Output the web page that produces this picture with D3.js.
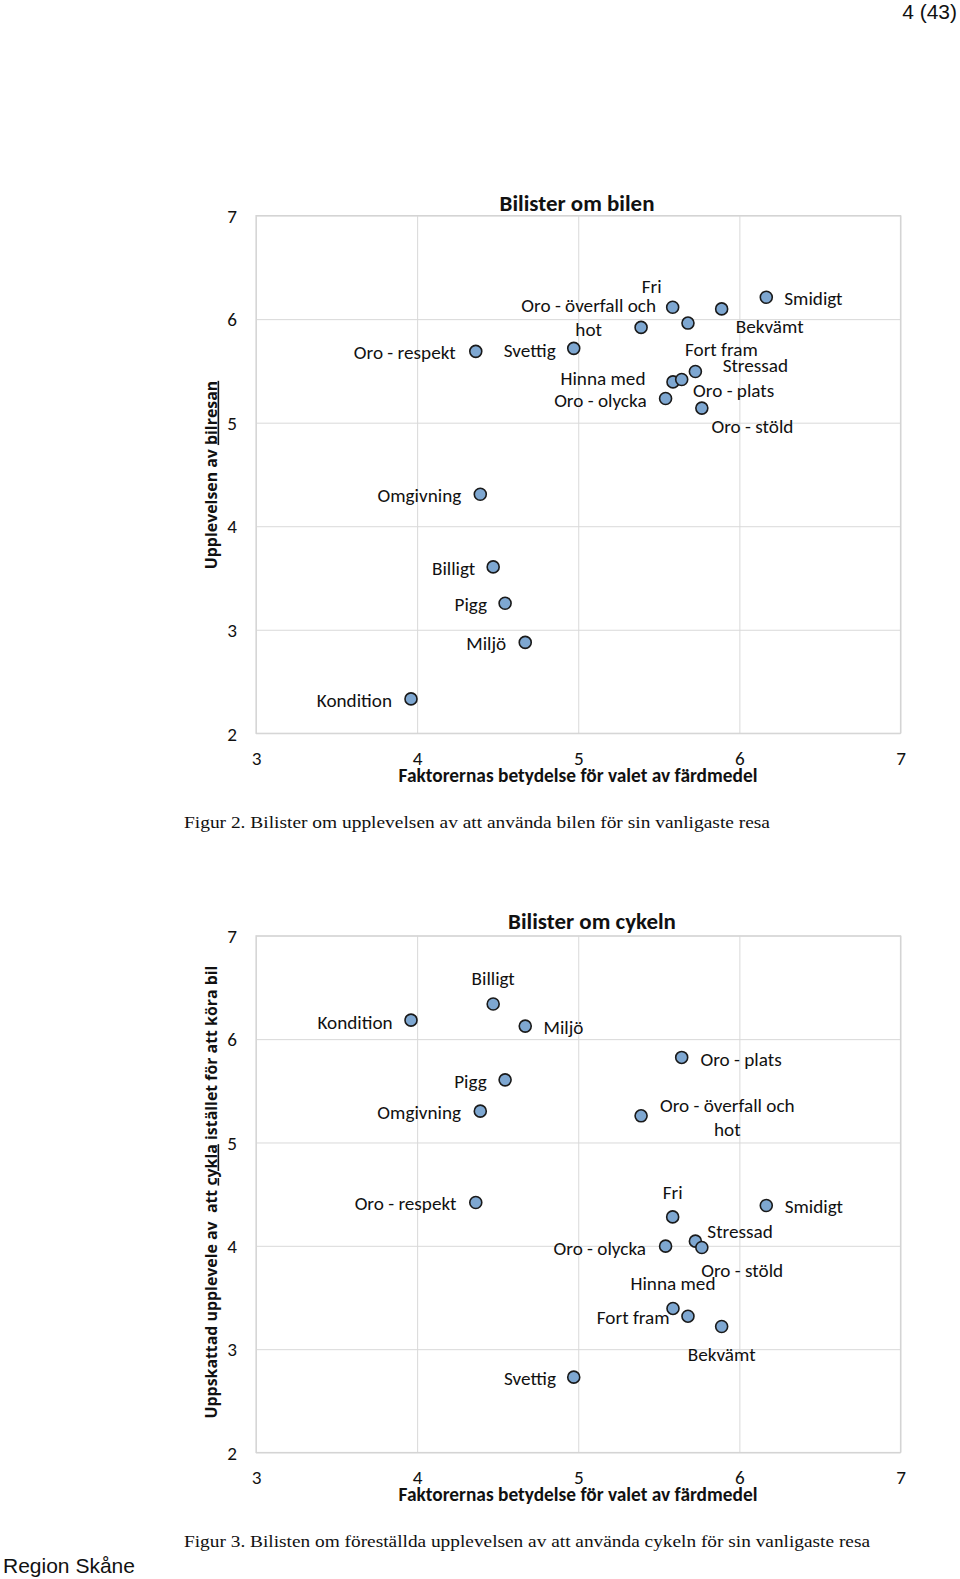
<!DOCTYPE html>
<html>
<head>
<meta charset="utf-8">
<script src="https://cdn.jsdelivr.net/npm/d3@7"></script>
<style>
  html, body { margin: 0; padding: 0; background: #fff; }
  svg { display: block; }
</style>
</head>
<body>
<div id="chart"></div>
<script>
// ---------------- DATA ----------------
const factors = ["Kondition","Billigt","Miljö","Pigg","Omgivning","Oro - respekt","Svettig",
  "Oro - överfall och hot","Oro - olycka","Fri","Hinna med","Oro - plats","Fort fram",
  "Stressad","Oro - stöld","Bekvämt","Smidigt"];
// x: Faktorernas betydelse för valet av färdmedel (same in both charts)
const importance = [3.962,4.472,4.671,4.546,4.392,4.364,4.972,5.390,5.542,5.586,5.588,5.642,5.681,5.727,5.767,5.890,6.167];
// y: Upplevelsen av bilresan
const bilenValues = [2.332,3.607,2.878,3.256,4.309,5.689,5.718,5.920,5.234,6.115,5.394,5.417,5.962,5.494,5.141,6.099,6.211];
// y: Uppskattad upplevelse av att cykla istället för att köra bil
const cykelnValues = [6.184,6.340,6.126,5.606,5.303,4.419,2.729,5.258,3.997,4.280,3.394,5.823,3.319,4.045,3.984,3.219,4.390];
const xTicks = [3,4,5,6,7];
const yTicks = [2,3,4,5,6,7];

// ---------------- LABEL LAYOUT (anchor, dx, dy from point) ----------------
const bilenLabelPos = [
  ["end",-19,1],["end",-18,1.7],["end",-19,1],["end",-18,1.3],["end",-19,1],["end",-20,1],
  ["end",-18,1.6],["middle",-52.4,-10],["end",-19,1.7],["middle",-21,-21],["end",-27.5,-4],
  ["middle",52,10.7],["middle",33.4,26],["middle",60,-6.3],["middle",50.6,18],["middle",48,17.7],
  ["start",18,1]
];
const cykelnLabelPos = [
  ["end",-18.4,2],["middle",0,-25.4],["start",18.3,1.4],["end",-18.4,1],["end",-19.2,0.7],
  ["end",-19.2,1],["end",-17.8,1],["middle",86.2,1.6],["end",-19.6,1.7],["middle",0,-24.3],
  ["middle",0,-25],["start",18.8,1.6],["end",-18.4,1.3],["middle",44.7,-10],["middle",40.4,22.7],
  ["middle",0,28],["start",18.4,1]
];
const wrapLabels = {"Oro - överfall och hot": ["Oro - överfall och", "hot"]};

// ---------------- SETUP ----------------
const W = 960, H = 1579;
const svg = d3.select("#chart").append("svg").attr("width", W).attr("height", H);

const labelFamily = "Carlito, Calibri, Lato, sans-serif";
const titleFamily = "Carlito, Calibri, Lato, sans-serif";
const yTitleFamily = "'Open Sans', 'Noto Sans', sans-serif";
const serifFamily = "'Liberation Serif', 'Times New Roman', serif";
const sansFamily = "'Liberation Sans', Arial, sans-serif";

function measure(txt, family, weight, size) {
  const t = svg.append("text").attr("font-family", family).attr("font-weight", weight)
    .attr("font-size", size).style("white-space","pre").text(txt);
  const w = t.node().getComputedTextLength();
  t.remove();
  return w;
}
const labelSize = 20 * 102 / measure("Oro - respekt", labelFamily, 400, 20);
const titleSize = 20 * 155 / measure("Bilister om bilen", titleFamily, 700, 20);
const xTitleSize = 20 * 359 / measure("Faktorernas betydelse för valet av färdmedel", titleFamily, 700, 20);
const yTitleSize = 20 * 188.5 / measure("Upplevelsen av bilresan", yTitleFamily, 700, 20);

// page number and footer
svg.append("text").attr("x", 957).attr("y", 19).attr("text-anchor","end")
  .attr("font-family", sansFamily).attr("font-size", 21).attr("fill","#111").text("4 (43)");
svg.append("text").attr("x", 3).attr("y", 1573)
  .attr("font-family", sansFamily).attr("font-size", 21).attr("fill","#111").text("Region Skåne");

function drawChart(cfg) {
  const x = d3.scaleLinear().domain([3,7]).range([256, 900.5]);
  const y = d3.scaleLinear().domain([2,7]).range([cfg.bottom, cfg.top]);
  const g = svg.append("g");
  const pw = 900.5 - 256, ph = cfg.bottom - cfg.top;

  // gridlines + tick labels via axes
  const yAxis = d3.axisLeft(y).tickValues(yTicks).tickSize(-pw).tickPadding(19).tickFormat(d3.format("d"));
  const ya = g.append("g").attr("transform", "translate(256,0)").call(yAxis);
  ya.select(".domain").remove();
  ya.selectAll("line").attr("stroke", "#d9d9d9").attr("stroke-width", 1);
  ya.selectAll("text").attr("font-family", labelFamily).attr("font-size", labelSize)
    .attr("fill", "#111").attr("dy", "0.35em");

  const xAxis = d3.axisBottom(x).tickValues(xTicks).tickSize(-ph).tickFormat(d3.format("d"));
  const xa = g.append("g").attr("transform", `translate(0,${cfg.bottom})`).call(xAxis);
  xa.select(".domain").remove();
  xa.selectAll("line").attr("stroke", "#d9d9d9").attr("stroke-width", 1);
  xa.selectAll("text").attr("font-family", labelFamily).attr("font-size", labelSize)
    .attr("fill", "#111").attr("y", 25).attr("dy", "0.35em");

  // plot border
  g.append("rect").attr("x", 256).attr("y", cfg.top).attr("width", pw).attr("height", ph)
    .attr("fill", "none").attr("stroke", "#d4d4d4").attr("stroke-width", 1.2);

  // title
  g.append("text").attr("x", cfg.titleX).attr("y", cfg.titleY).attr("dy", "0.35em")
    .attr("text-anchor", "middle").attr("font-family", titleFamily).attr("font-weight", 700)
    .attr("font-size", titleSize).attr("fill", "#111").text(cfg.title);

  // x title
  g.append("text").attr("x", 578).attr("y", cfg.bottom + 42).attr("dy", "0.35em")
    .attr("text-anchor", "middle").attr("font-family", titleFamily).attr("font-weight", 700)
    .attr("font-size", xTitleSize).attr("fill", "#111").text("Faktorernas betydelse för valet av färdmedel");

  // y title
  const yt = g.append("text").attr("transform", `translate(211,${cfg.yTitleY}) rotate(-90)`)
    .attr("dy", "0.35em").attr("text-anchor", "middle").attr("font-family", yTitleFamily)
    .attr("font-weight", 700).attr("font-size", yTitleSize).attr("fill", "#111")
    .style("white-space", "pre");
  cfg.yTitle.forEach(p => {
    const ts = yt.append("tspan").text(p[0]);
    if (p[1]) ts.style("text-decoration", "underline");
  });

  // points
  const data = factors.map((f, i) => ({ name: f, x: importance[i], y: cfg.values[i], pos: cfg.labelPos[i] }));
  g.selectAll("circle.pt").data(data).join("circle").attr("class", "pt")
    .attr("cx", d => x(d.x)).attr("cy", d => y(d.y)).attr("r", 6)
    .attr("fill", "#7ea7d1").attr("stroke", "#1a1a1a").attr("stroke-width", 1.6);

  // labels
  const lh = 23.3;
  data.forEach(d => {
    const lines = wrapLabels[d.name] || [d.name];
    const cx = x(d.x) + d.pos[1], cy = y(d.y) + d.pos[2];
    const t = g.append("text").attr("text-anchor", d.pos[0]).attr("font-family", labelFamily)
      .attr("font-size", labelSize).attr("fill", "#111");
    lines.forEach((ln, i) => {
      t.append("tspan").attr("x", cx).attr("y", cy + (i - (lines.length - 1) / 2) * lh)
        .attr("dy", "0.35em").text(ln);
    });
  });

  // caption
  svg.append("text").attr("x", 184).attr("y", cfg.captionY).attr("font-family", serifFamily)
    .attr("font-size", 16.5).attr("fill", "#111").attr("textLength", cfg.captionLen)
    .attr("lengthAdjust", "spacingAndGlyphs").text(cfg.caption);
}

drawChart({
  top: 215.6, bottom: 733.3, values: bilenValues, labelPos: bilenLabelPos,
  title: "Bilister om bilen", titleX: 577, titleY: 202.7,
  yTitle: [["Upplevelsen av ", false], ["bilresan", true]], yTitleY: 475,
  caption: "Figur 2. Bilister om upplevelsen av att använda bilen för sin vanligaste resa",
  captionY: 828, captionLen: 586
});
drawChart({
  top: 935.8, bottom: 1452.5, values: cykelnValues, labelPos: cykelnLabelPos,
  title: "Bilister om cykeln", titleX: 592, titleY: 921,
  yTitle: [["Uppskattad upplevele av  att ", false], ["cykla", true], [" istället för att köra bil", false]], yTitleY: 1192,
  caption: "Figur 3. Bilisten om föreställda upplevelsen av att använda cykeln för sin vanligaste resa",
  captionY: 1547, captionLen: 686
});
</script>
</body>
</html>
